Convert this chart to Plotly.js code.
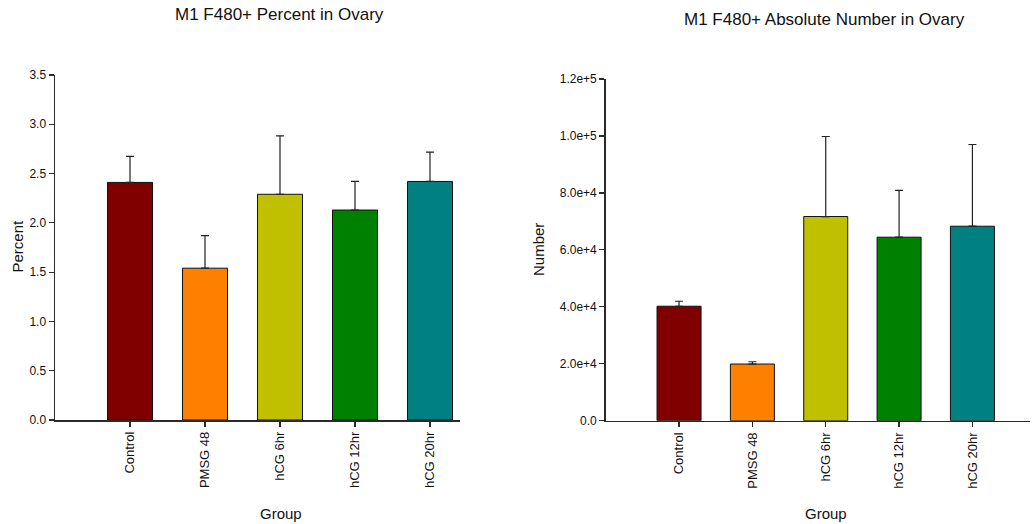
<!DOCTYPE html>
<html>
<head>
<meta charset="utf-8">
<script src="https://cdn.plot.ly/plotly-3.0.1.min.js"></script>
<style>html,body{margin:0;padding:0;background:#fff;}#chart{width:1034px;height:524px;}</style>
</head>
<body>
<div id="chart"></div>
<script>
// ---- data ----
const groups = ["Control", "PMSG 48", "hCG 6hr", "hCG 12hr", "hCG 20hr"];
const barColors = ["#800000", "#FF8000", "#C0C000", "#008000", "#008080"];

const percentMean = [2.41, 1.54, 2.29, 2.13, 2.42];
const percentErr  = [0.265, 0.33, 0.592, 0.291, 0.297];

const numberMean = [40200, 19900, 71700, 64450, 68300];
const numberErr  = [1750, 800, 28100, 16450, 28700];

const percentTickVals = [0, 0.5, 1.0, 1.5, 2.0, 2.5, 3.0, 3.5];
const percentTickText = ["0.0", "0.5", "1.0", "1.5", "2.0", "2.5", "3.0", "3.5"];
const numberTickVals = [0, 20000, 40000, 60000, 80000, 100000, 120000];
const numberTickText = ["0.0", "2.0e+4", "4.0e+4", "6.0e+4", "8.0e+4", "1.0e+5", "1.2e+5"];

// ---- chart ----
const FONT = "Liberation Sans, Arial, sans-serif";
const AX = "#2a2a2a";

function barTrace(y, err, xa, ya) {
  return {
    type: "bar",
    x: groups,
    y: y,
    xaxis: xa,
    yaxis: ya,
    marker: { color: barColors, line: { color: "#111", width: 1 } },
    error_y: {
      type: "data", symmetric: false, array: err,
      arrayminus: err.map(() => 0),
      color: "#222", thickness: 1.2, width: 4
    },
    showlegend: false,
    hoverinfo: "x+y"
  };
}

const xBase = {
  type: "category",
  showgrid: false, zeroline: false,
  showline: true, linecolor: AX, linewidth: 1.5,
  ticks: "outside", ticklen: 5, tickcolor: AX, tickwidth: 1.2,
  tickangle: -90,
  tickfont: { family: FONT, size: 13, color: "#111" }
};
const yBase = {
  showgrid: false, zeroline: false,
  showline: true, linecolor: AX, linewidth: 1.5,
  ticks: "outside", ticklen: 5, tickcolor: AX, tickwidth: 1.2,
  tickfont: { family: FONT, size: 12, color: "#111" }
};

const layout = {
  width: 1034, height: 524,
  margin: { l: 0, r: 0, t: 0, b: 0 },
  paper_bgcolor: "#fff", plot_bgcolor: "#fff",
  bargap: 0.4,
  font: { family: FONT, color: "#111" },
  xaxis: Object.assign({}, xBase, { domain: [55/1034, 460/1034], range: [-1, 4.4], anchor: "y" }),
  yaxis: Object.assign({}, yBase, {
    domain: [(524-420)/524, (524-75)/524], range: [0, 3.5], anchor: "x",
    tickvals: percentTickVals, ticktext: percentTickText
  }),
  xaxis2: Object.assign({}, xBase, { domain: [605.7/1034, 1030/1034], range: [-1, 4.785], anchor: "y2" }),
  yaxis2: Object.assign({}, yBase, {
    domain: [(524-420.7)/524, (524-79)/524], range: [0, 120000], anchor: "x2",
    tickvals: numberTickVals, ticktext: numberTickText
  }),
  annotations: [
    { text: "M1 F480+ Percent in Ovary", xref: "paper", yref: "paper", x: 279.5/1034, y: (524-15)/524,
      xanchor: "center", yanchor: "middle", showarrow: false, font: { family: FONT, size: 17, color: "#111" } },
    { text: "M1 F480+ Absolute Number in Ovary", xref: "paper", yref: "paper", x: 824.5/1034, y: (524-20)/524,
      xanchor: "center", yanchor: "middle", showarrow: false, font: { family: FONT, size: 17, color: "#111" } },
    { text: "Percent", xref: "paper", yref: "paper", x: 17/1034, y: (524-246.5)/524, textangle: -90,
      xanchor: "center", yanchor: "middle", showarrow: false, font: { family: FONT, size: 15, color: "#111" } },
    { text: "Number", xref: "paper", yref: "paper", x: 539/1034, y: (524-250)/524, textangle: -90,
      xanchor: "center", yanchor: "middle", showarrow: false, font: { family: FONT, size: 15, color: "#111" } },
    { text: "Group", xref: "paper", yref: "paper", x: 280.5/1034, y: (524-513)/524,
      xanchor: "center", yanchor: "middle", showarrow: false, font: { family: FONT, size: 15, color: "#111" } },
    { text: "Group", xref: "paper", yref: "paper", x: 825.5/1034, y: (524-513)/524,
      xanchor: "center", yanchor: "middle", showarrow: false, font: { family: FONT, size: 15, color: "#111" } }
  ]
};

Plotly.newPlot("chart", [
  barTrace(percentMean, percentErr, "x", "y"),
  barTrace(numberMean, numberErr, "x2", "y2")
], layout, { staticPlot: true, displayModeBar: false });
</script>
</body>
</html>
